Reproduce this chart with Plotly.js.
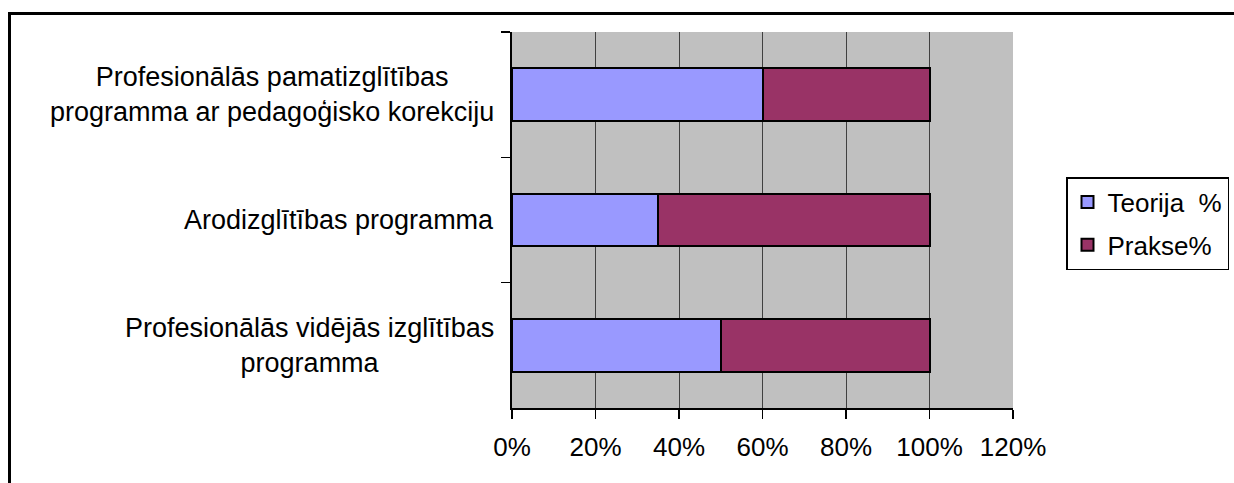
<!DOCTYPE html>
<html>
<head>
<meta charset="utf-8">
<script src="https://cdn.plot.ly/plotly-3.0.1.min.js"></script>
<style>
  html, body { margin: 0; padding: 0; background: #ffffff; overflow: hidden; }
  #wrap { position: relative; width: 1234px; height: 483px; }
  #chart { position: absolute; left: 0; top: 0; width: 1234px; height: 483px; }
  #frame { position: absolute; left: 8px; top: 12px; width: 1300px; height: 600px;
           border: 3px solid #000; pointer-events: none; box-sizing: border-box; }
</style>
</head>
<body>
<div id="wrap">
  <div id="chart"></div>
  <div id="frame"></div>
</div>
<script>
const categories = [
  "Profesionālās pamatizglītības<br>programma ar pedagoģisko korekciju",
  "Arodizglītības programma",
  "Profesionālās vidējās izglītības<br>programma"
];
const teorija = [60, 35, 50];
const prakse = [40, 65, 50];
const seriesNames = ["Teorija\u00a0\u00a0%", "Prakse%"];
const xTicks = [0, 20, 40, 60, 80, 100, 120];

const FONT = "Liberation Sans, Arial, sans-serif";

const traces = [
  {
    type: "bar", orientation: "h", name: seriesNames[0],
    y: categories, x: teorija, legendgroup: "a",
    marker: { color: "#9999FF", line: { color: "#000000", width: 2 } },
    hoverinfo: "x+y"
  },
  {
    type: "bar", orientation: "h", name: seriesNames[1],
    y: categories, x: prakse, legendgroup: "b",
    marker: { color: "#993366", line: { color: "#000000", width: 2 } },
    hoverinfo: "x+y"
  }
];

const annotations = categories.map(c => ({
  xref: "paper", yref: "y", x: 0, y: c, xanchor: "right", yanchor: "middle",
  xshift: -16, text: c, showarrow: false, align: "center",
  font: { family: FONT, size: 27, color: "#000000" }
}));

const layout = {
  width: 1234, height: 483,
  margin: { l: 512, r: 221, t: 32, b: 75, pad: 0, autoexpand: false },
  paper_bgcolor: "rgba(0,0,0,0)",
  plot_bgcolor: "#C0C0C0",
  barmode: "stack",
  bargap: 0.58,
  showlegend: true,
  font: { family: FONT, size: 26, color: "#000000" },
  xaxis: {
    range: [0, 120], tickvals: xTicks, ticktext: xTicks.map(v => v + "%"),
    showgrid: true, gridcolor: "#404040", gridwidth: 1,
    zeroline: false, showline: true, linecolor: "#000000", linewidth: 2,
    ticks: "outside", ticklen: 9, tickcolor: "#000000", tickwidth: 1.5,
    ticklabelstandoff: 6,
    tickfont: { family: FONT, size: 26, color: "#000000" },
    fixedrange: true
  },
  yaxis: {
    type: "category", categoryorder: "array", categoryarray: categories,
    autorange: "reversed",
    showticklabels: false, showgrid: false, zeroline: false,
    showline: true, linecolor: "#000000", linewidth: 2,
    ticks: "outside", tickson: "boundaries", ticklen: 9, tickcolor: "#000000", tickwidth: 1.5,
    fixedrange: true
  },
  legend: {
    xref: "container", yref: "container",
    x: 1066 / 1234, y: 1 - 177 / 483, xanchor: "left", yanchor: "top",
    bgcolor: "#ffffff", bordercolor: "#000000", borderwidth: 1.5,
    traceorder: "grouped", tracegroupgap: 6, itemwidth: 30,
    font: { family: FONT, size: 26, color: "#000000" }
  },
  annotations: annotations
};

Plotly.newPlot("chart", traces, layout, { displayModeBar: false, staticPlot: true });
</script>
</body>
</html>
